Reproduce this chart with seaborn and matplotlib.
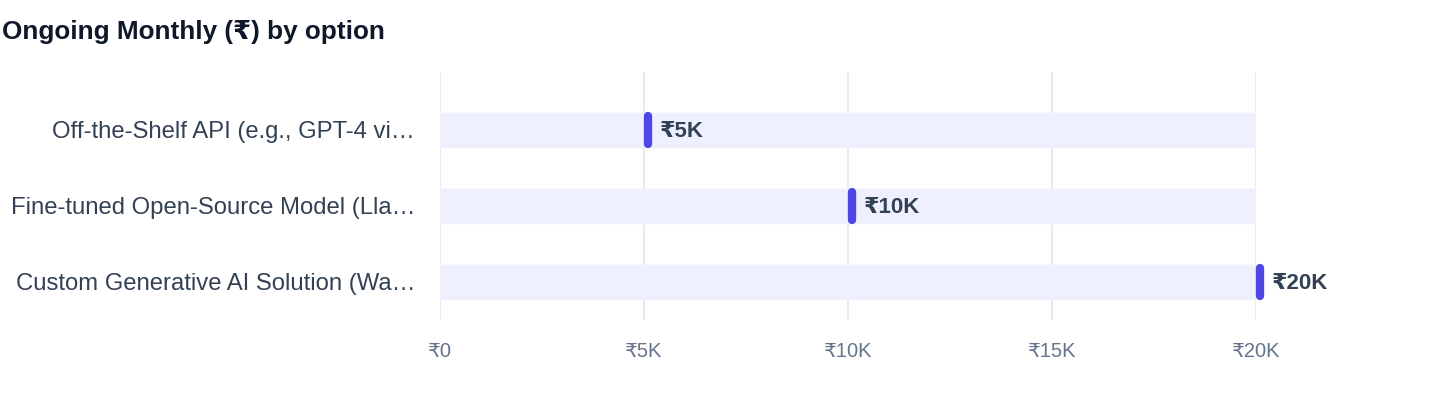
import matplotlib
matplotlib.use("Agg")
import matplotlib.pyplot as plt
import matplotlib.transforms as mtransforms
from matplotlib.ticker import FuncFormatter
import pandas as pd
import seaborn as sns

# chart data
options = [
    "Off-the-Shelf API (e.g., GPT-4 vi…",
    "Fine-tuned Open-Source Model (Lla…",
    "Custom Generative AI Solution (Wa…",
]
monthly_cost = [5000, 10000, 20000]
value_labels = ["₹5K", "₹10K", "₹20K"]
x_ticks = [0, 5000, 10000, 15000, 20000]
x_tick_labels = ["₹0", "₹5K", "₹10K", "₹15K", "₹20K"]
title = "Ongoing Monthly (₹) by option"

sns.set_theme(style="white")
plt.rcParams["font.family"] = ["Liberation Sans", "DejaVu Sans"]

track_color = "#eef1fd"
marker_color = "#4f46e5"
label_color = "#334155"
tick_color = "#64748b"
grid_color = "#e2e8f0"

df = pd.DataFrame({"option": options, "cost": monthly_cost})
df["track"] = max(monthly_cost)

fig = plt.figure(figsize=(14.4, 4.08), dpi=100)
ax = fig.add_axes([440 / 1440, 1 - 320 / 408, 816 / 1440, 248 / 408])

# background track for each row
sns.barplot(data=df, x="track", y="option", color=track_color, width=0.43,
            saturation=1, ax=ax, zorder=2)
for bar in ax.patches:
    bar.set_edgecolor(track_color)
    bar.set_linewidth(2.5)
    bar.set_joinstyle("round")

# value marker: short rounded vertical stroke
ypos = list(range(len(options)))
shift = mtransforms.offset_copy(ax.transData, fig=fig, x=4, y=0, units="dots")
ax.vlines(df["cost"], [y - 0.185 for y in ypos], [y + 0.185 for y in ypos],
          colors=marker_color, linewidth=6, capstyle="round", zorder=4,
          transform=shift, clip_on=False)

for y, v, lab in zip(ypos, df["cost"], value_labels):
    ax.annotate(lab, (v, y), xytext=(16, -2), textcoords="offset pixels",
                ha="left", va="center", fontsize=16, fontweight="bold",
                color=label_color, zorder=5, annotation_clip=False)

ax.set_xlim(0, 20000)
ax.set_ylim(2.5, -0.763)
ax.set_xticks(x_ticks)
ax.xaxis.set_major_formatter(FuncFormatter(lambda v, p: x_tick_labels[x_ticks.index(int(v))]
                                           if int(v) in x_ticks else ""))
ax.grid(axis="x", color=grid_color, linewidth=1.2, zorder=0)
ax.grid(axis="y", visible=False)
ax.set_axisbelow(True)
for s in ax.spines.values():
    s.set_visible(False)
ax.tick_params(axis="x", length=0, pad=16, labelsize=14.5, labelcolor=tick_color)
ax.tick_params(axis="y", length=0, pad=18, labelsize=17.2, labelcolor=label_color)
ax.set_xlabel("")
ax.set_ylabel("")

fig.text(0.0015, 1 - 32 / 408, title, ha="left", va="center",
         fontsize=18.8, fontweight="bold", color="#0f172a")

fig.savefig("out.png", dpi=100, facecolor="white")
